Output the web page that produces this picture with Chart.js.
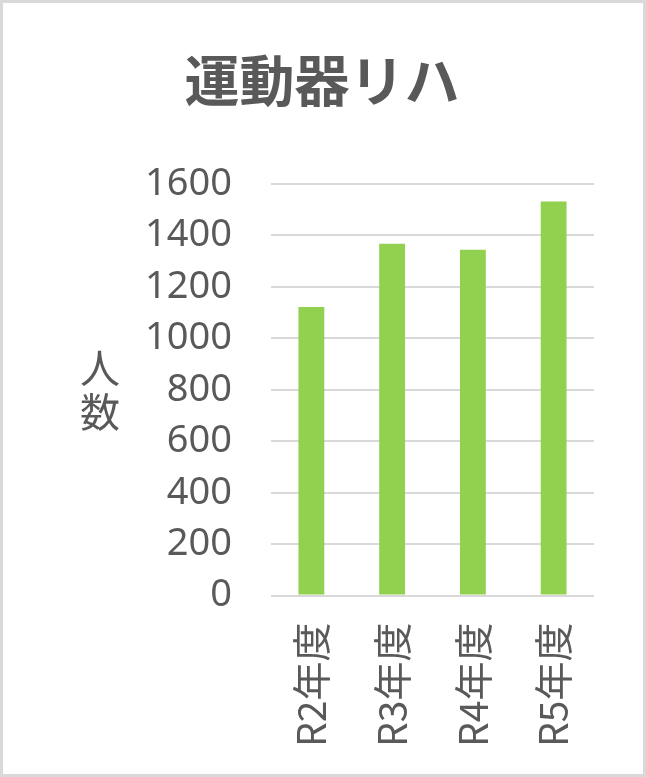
<!DOCTYPE html>
<html>
<head>
<meta charset="utf-8">
<script src="https://cdn.jsdelivr.net/npm/chart.js@4"></script>
<style>
  body { margin: 0; background: #fff; }
  #wrap { width: 646px; height: 777px; box-sizing: border-box; border: 3px solid #d9d9d9; }
</style>
</head>
<body>
<div id="wrap"><canvas id="c" width="640" height="771"></canvas></div>
<script>
// datos del grafico
const categorias = ["R2年度", "R3年度", "R4年度", "R5年度"];
const valores = [1122, 1368, 1344, 1532];
const titulo = "運動器リハ";
const tituloEje = ["人", "数"];

const GRIS = "#595959";
const FUENTE = "'Noto Sans CJK JP', 'Noto Sans', sans-serif";

// titulo vertical del eje y, caracter por caracter
const ejeVertical = {
  id: "ejeVertical",
  afterDraw(chart) {
    const { ctx, chartArea } = chart;
    const centro = (chartArea.top + chartArea.bottom) / 2;
    ctx.save();
    ctx.fillStyle = GRIS;
    ctx.font = "40px " + FUENTE;
    ctx.textAlign = "center";
    ctx.textBaseline = "middle";
    tituloEje.forEach((t, i) => {
      ctx.fillText(t, 97, centro - 22 + i * 44);
    });
    ctx.restore();
  },
};

new Chart(document.getElementById("c"), {
  type: "bar",
  data: {
    labels: categorias,
    datasets: [
      {
        data: valores,
        backgroundColor: "#92d050",
        categoryPercentage: 1,
        barPercentage: 0.32,
      },
    ],
  },
  options: {
    responsive: false,
    animation: false,
    layout: { padding: { left: 47, right: 49, bottom: 0 } },
    plugins: {
      legend: { display: false },
      tooltip: { enabled: false },
      title: {
        display: true,
        text: titulo,
        color: GRIS,
        font: { family: FUENTE, size: 55, weight: "bold" },
        padding: { top: 44, bottom: 71 },
      },
    },
    scales: {
      y: {
        min: 0,
        max: 1600,
        afterFit: (escala) => {
          escala.width = 221;
        },
        ticks: {
          stepSize: 200,
          color: GRIS,
          padding: 39,
          font: { family: "'Noto Sans', sans-serif", size: 38 },
          callback: (v) => String(v),
        },
        grid: { color: "#d9d9d9", lineWidth: 2, drawTicks: false },
        border: { display: false },
      },
      x: {
        ticks: {
          color: GRIS,
          minRotation: 90,
          maxRotation: 90,
          padding: 27,
          font: { family: FUENTE, size: 39 },
        },
        grid: { display: false, drawTicks: false },
        border: { display: false },
      },
    },
  },
  plugins: [ejeVertical],
});
</script>
</body>
</html>
